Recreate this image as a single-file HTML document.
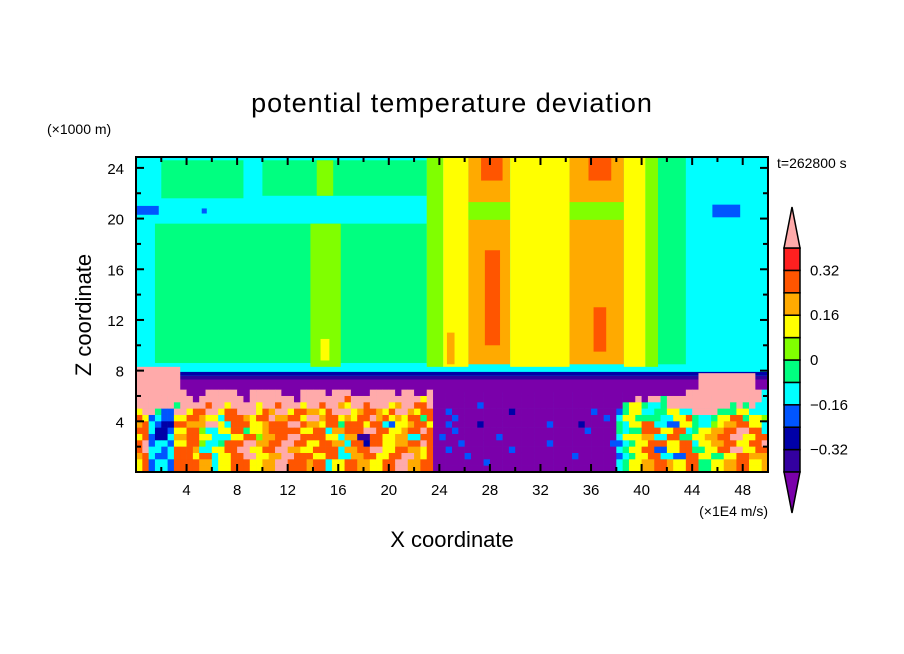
<!DOCTYPE html>
<html><head><meta charset="utf-8"><style>
html,body{margin:0;padding:0;background:#fff;}
svg{display:block;font-family:"Liberation Sans",sans-serif;}
</style></head><body>
<svg id="chart" width="904" height="654" viewBox="0 0 904 654" xmlns="http://www.w3.org/2000/svg">
<rect width="904" height="654" fill="#fff"/>
<text x="452" y="112" text-anchor="middle" font-size="27" letter-spacing="1">potential temperature deviation</text>
<text x="47" y="134" font-size="14">(×1000 m)</text>
<text x="777" y="168" font-size="14">t=262800 s</text>
<text x="768" y="516" text-anchor="end" font-size="14">(×1E4 m/s)</text>
<text x="452" y="547" text-anchor="middle" font-size="22">X coordinate</text>
<text transform="translate(91,315) rotate(-90)" text-anchor="middle" font-size="22">Z coordinate</text>
<g id="field"></g>
<g id="axes"></g>
<g id="cbar"></g>
</svg>
<script>
const levelColors = {p:"#7a00aa",n:"#3300a0",d:"#0000a8",b:"#0055ff",c:"#00ffff",g:"#00ff80",l:"#80ff00",y:"#ffff00",o:"#ffaa00",r:"#ff5500",R:"#ff2020",k:"#ffaaaa"};
const cbarLevels = ["n","d","b","c","g","l","y","o","r","R"];
const cbarTicks = [-0.32,-0.16,0,0.16,0.32];
const xTicks = [4,8,12,16,20,24,28,32,36,40,44,48];
const zTicks = [4,8,12,16,20,24];
const regions = [
[1.5,23,8.6,19.6,"g"],[2,8.5,21.6,24.6,"g"],[10,23,21.8,24.6,"g"],
[13.8,16.2,8.3,19.6,"l"],[14.3,15.6,21.8,24.6,"l"],[14.6,15.3,8.8,10.5,"y"],
[0,1.8,20.3,21,"b"],[5.2,5.6,20.4,20.8,"b"],
[23,24.3,8.3,24.86,"l"],[24.3,26.3,8.3,24.86,"y"],[24.6,25.2,8.5,11,"o"],
[26.3,29.6,8.5,24.86,"o"],[26.3,29.6,19.9,21.3,"l"],[27.6,28.8,10,17.5,"r"],[27.3,29,23,24.86,"r"],
[29.6,34.3,8.3,24.86,"y"],
[34.3,38.6,8.5,24.86,"o"],[34.3,38.6,19.9,21.3,"l"],[36.2,37.2,9.5,13,"r"],[35.8,37.6,23,24.86,"r"],
[38.6,40.3,8.3,24.86,"y"],[40.3,41.3,8.3,24.86,"l"],[41.3,43.5,8.5,24.86,"g"],
[45.6,47.8,20.1,21.1,"b"],
[0,50,6.3,7.3,"p"],[0,50,7.3,7.6,"n"],[0,50,7.6,7.9,"d"],
[0,3.5,6.0,8.3,"k"],[44.5,49,6.0,7.8,"k"]
];
// lower band rows from top (z 6-6.5) down; segments: left (x0-23.5, 47 half-cells), middle (x23.5-38, 29), right (x38-50, 24)
const lowerLeft = [
"kkkkkkkkpppkkkkkppkkkkkpppkkkkpkkkpppkkkkpkkppk",
"kkkkkkkkkpkkkkkkkpkkkkkkkpkkkkkkkrkkkkkkkkkkkyk",
"kkkkkkgkkkkrkkykkkkykkrkkkykkrkkoykkrkkkyokkrrk",
"ykkgbbkkyrrkkyrrkkkyrokkyrrooyrkkkyorroyrkkoyrr",
"rybcbbyyrroyycrrroyrrkoorrykkorryoyrrkoryoyrrgr",
"orcbddrroookkycrrryyorrrkkrooyrrgrrryrrcbyyorry",
"rrcddbyyrrlccyyrrgyyorrrrryyrrcoorrrkkrryyorrkr",
"yrbddcoorryycccyyrrloorrkkrrrryycoonnrryyooccrr",
"rkbccbyyrrlccgrrrkkoorrkkrryyrroocrrdrryyoorrkr",
"rkccbcrrroccyyrrkkyyrrkkooyyrrrrcoorrkkyyrrooyr",
"orcbbcrrryrrcyyrrkkyyookkrrryyrrccoorryyrrkkoyr",
"yrbccbrrrroocyyrrryyookkrrrorrcyyrrooyyrrkkoorr",
"yrbccbrrrroocyyrrryyookkrrrorrcyyrrooyyrrkkoorr"
];
const lowerMid = [
"ppppppppppppppppppppppppppppp",
"ppppppppppppppppppppppppppppp",
"pppppppbppppppppppppppppppppp",
"ppbpppppppppdppppppppppppbppp",
"pppbpppppppppppppppppppppppbp",
"ppbppppdppppppppppbppppdppppp",
"pppbppppppppppppppppppppbpppp",
"pbppppppppbpppppppppppppppppp",
"ppppbpppppppppppppbpppppppppb",
"ppbpppppppppbpppppppppppppppp",
"pppppbppppppppppppppppbpppppp",
"ppppppppbpppppppppppppppppppp",
"ppppppppppppppppppppppppppppp"
];
const lowerRight = [
"pppppppppppkkkkkkkkkkkkc",
"pppkpkkgkkkkkkkkkkkkkkkc",
"pgyygccgkkkkkkkkkkgkgkcc",
"bgyyccggyycckkkkgggyyccc",
"cyyggggccyyrgccgyyrrgyyl",
"gcyyrrccbbyygcclyoorryyc",
"gcggrrryyrrcgyyoorrkkrrc",
"cyyyooccrrggyyoorrkkyyrr",
"bcgyyrrryyrrcyyoorryyrrk",
"cgyyrrbbyyrrggyyrrkkyyrr",
"bcgyyrrccbbrryyggyyrrooo",
"cgyyoorroyyrrggyyoorryyo",
"cgyyoorroyyrrggyyoorryyo"
];
const X0=136,X1=768,Y0=157,Y1=472,XMAX=50,ZTOP=24.86;
const sx=v=>X0+(X1-X0)*v/XMAX;
const sz=v=>Y1-(Y1-Y0)*v/ZTOP;
const NS="http://www.w3.org/2000/svg";
function mk(tag,attrs,parent){const e=document.createElementNS(NS,tag);for(const k in attrs)e.setAttribute(k,attrs[k]);parent.appendChild(e);return e;}
function fit(s,n){while(s.length<n)s+=s[s.length-1];return s.slice(0,n);}
const field=document.getElementById("field");
const bg=mk("rect",{x:X0,y:Y0,width:X1-X0,height:Y1-Y0,fill:levelColors.c},field);


regions.forEach(r=>{
  const e=mk("rect",{x:sx(r[0]),y:sz(Math.min(r[3],ZTOP)),width:sx(r[1])-sx(r[0]),height:sz(r[2])-sz(Math.min(r[3],ZTOP)),fill:levelColors[r[4]]},field);
  
  
});
lowerLeft.forEach((_,i)=>{
  const row=fit(lowerLeft[i],47)+fit(lowerMid[i],29)+fit(lowerRight[i],24);
  const ztop=6.5-0.5*i, zbot=ztop-0.5;
  for(let j=0;j<100;j++){
    const e=mk("rect",{x:sx(j/2),y:sz(ztop),width:sx((j+1)/2)-sx(j/2)+0.3,height:sz(Math.max(zbot,0))-sz(ztop)+0.3,fill:levelColors[row[j]]},field);
    
    
  }
});
const axes=document.getElementById("axes");
const frame=mk("rect",{x:X0,y:Y0,width:X1-X0,height:Y1-Y0,fill:"none",stroke:"#000","stroke-width":2},axes);


for(let v=2;v<50;v+=2){
  const L=(v%4===0)?8:5,x=sx(v);
  mk("line",{x1:x,y1:Y1,x2:x,y2:Y1-L,stroke:"#000","stroke-width":2},axes);
  mk("line",{x1:x,y1:Y0,x2:x,y2:Y0+L,stroke:"#000","stroke-width":2},axes);
}
for(let v=2;v<=24;v+=2){
  const L=(v%4===0)?8:5,y=sz(v);
  mk("line",{x1:X0,y1:y,x2:X0+L,y2:y,stroke:"#000","stroke-width":2},axes);
  mk("line",{x1:X1,y1:y,x2:X1-L,y2:y,stroke:"#000","stroke-width":2},axes);
}
xTicks.forEach(v=>{
  const t=mk("text",{x:sx(v),y:Y1+23,"text-anchor":"middle","font-size":15},axes);t.textContent=v;
  
  
});
zTicks.forEach(v=>{
  const t=mk("text",{x:X0-12,y:sz(v)+6,"text-anchor":"end","font-size":15},axes);t.textContent=v;
  
  
});
const cb=document.getElementById("cbar");
const CX0=784,CX1=800,CB0=472,CB1=248;
const cstep=(CB0-CB1)/cbarLevels.length;
cbarLevels.forEach((lv,i)=>{
  const e=mk("rect",{x:CX0,y:CB0-(i+1)*cstep,width:CX1-CX0,height:cstep,fill:levelColors[lv],stroke:"#000","stroke-width":1.5},cb);
  
  
});
const tu=mk("polygon",{points:`${CX0},${CB1} ${CX1},${CB1} ${(CX0+CX1)/2},207`,fill:levelColors.k,stroke:"#000","stroke-width":1.5},cb);


const td=mk("polygon",{points:`${CX0},${CB0} ${CX1},${CB0} ${(CX0+CX1)/2},513`,fill:levelColors.p,stroke:"#000","stroke-width":1.5},cb);


const cval=v=>CB0-((v+0.4)/0.08)*cstep;
cbarTicks.forEach(v=>{
  const t=mk("text",{x:810,y:cval(v)+5,"font-size":15},cb);
  t.textContent=(v<0?"\u2212":"")+(Math.abs(v)===0?"0":String(Math.abs(v)));
  
  
});
</script>
</body></html>
